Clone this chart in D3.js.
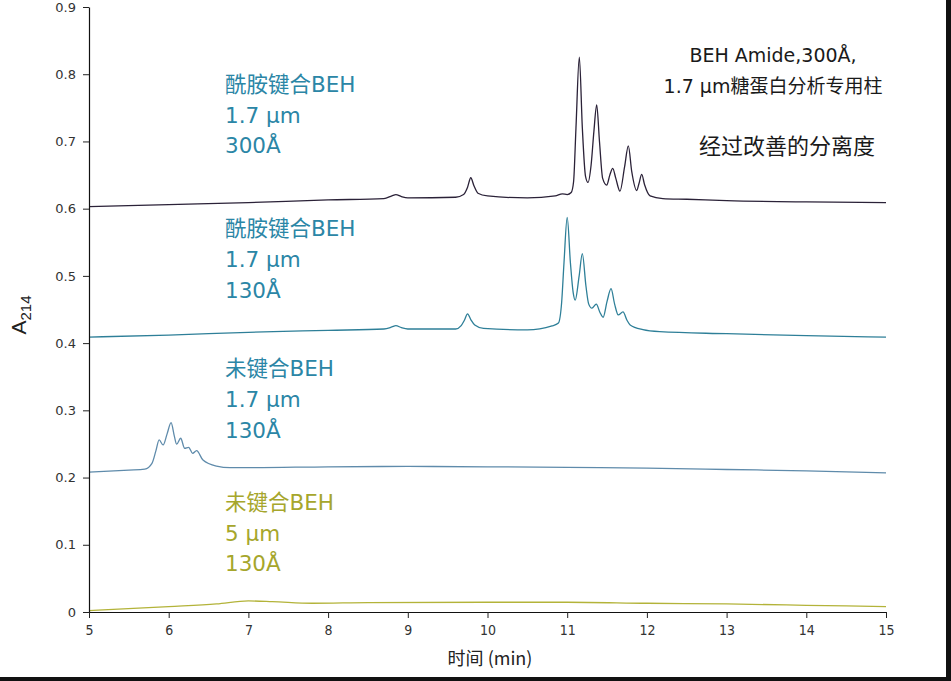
<!DOCTYPE html>
<html><head><meta charset="utf-8">
<script src="https://cdn.jsdelivr.net/npm/d3@7/dist/d3.min.js"></script>
<style>
html,body{margin:0;padding:0;background:#fff;}
svg{display:block;}
</style></head>
<body>
<svg id="chart" width="951" height="681"></svg>
<script>
// ---- data (time in min, absorbance) ----
const xTicks = [5,6,7,8,9,10,11,12,13,14,15];
const yTicks = [0,0.1,0.2,0.3,0.4,0.5,0.6,0.7,0.8,0.9];

const amide300 = [
 [5.0,0.603],[6.0,0.606],[7.0,0.609],[8.0,0.613],[8.7,0.615],[8.8,0.619],[8.85,0.621],[8.92,0.618],[9.0,0.616],
 [9.6,0.617],[9.7,0.621],[9.75,0.632],[9.79,0.646],[9.83,0.634],[9.88,0.623],[10.0,0.619],[10.5,0.616],
 [10.85,0.619],[10.94,0.622],[11.0,0.621],[11.05,0.624],[11.08,0.64],[11.11,0.72],[11.152,0.8255],[11.19,0.72],
 [11.23,0.648],[11.261,0.639],[11.30,0.665],[11.335,0.715],[11.370,0.7545],[11.405,0.70],[11.445,0.645],
 [11.496,0.635],[11.535,0.650],[11.571,0.660],[11.61,0.645],[11.662,0.626],[11.72,0.662],[11.767,0.6935],
 [11.81,0.655],[11.872,0.627],[11.90,0.637],[11.935,0.651],[11.97,0.636],[12.04,0.619],[12.2,0.615],
 [12.5,0.614],[13.0,0.612],[14.0,0.610],[15.0,0.609]
];
const amide130 = [
 [5.0,0.409],[6.0,0.412],[7.0,0.416],[8.0,0.419],[8.7,0.421],[8.8,0.424],[8.85,0.426],[8.92,0.423],[9.0,0.421],
 [9.6,0.421],[9.67,0.426],[9.71,0.434],[9.75,0.4435],[9.79,0.435],[9.84,0.427],[9.95,0.422],[10.5,0.4196],
 [10.81,0.4256],[10.89,0.430],[10.93,0.46],[10.96,0.52],[11.0,0.587],[11.04,0.52],[11.075,0.475],[11.10,0.464],
 [11.15,0.50],[11.19,0.533],[11.235,0.485],[11.27,0.458],[11.31,0.452],[11.365,0.458],[11.41,0.446],
 [11.45,0.4385],[11.50,0.462],[11.55,0.481],[11.595,0.458],[11.64,0.442],[11.70,0.4464],[11.75,0.434],
 [11.79,0.427],[11.95,0.420],[12.16,0.417],[13.0,0.414],[14.0,0.411],[15.0,0.409]
];
const bare17 = [
 [5.0,0.208],[5.5,0.211],[5.70,0.2124],[5.79,0.221],[5.84,0.240],[5.88,0.256],[5.93,0.2485],[5.98,0.265],
 [6.03,0.2817],[6.07,0.262],[6.10,0.2496],[6.15,0.2585],[6.20,0.2436],[6.25,0.245],[6.30,0.236],[6.35,0.240],
 [6.43,0.226],[6.60,0.217],[6.77,0.2147],[7.0,0.2147],[8.0,0.216],[9.0,0.2165],[10.0,0.216],[11.0,0.215],
 [12.0,0.214],[13.0,0.212],[14.0,0.210],[15.0,0.207]
];
const bare5 = [
 [5.0,0.002],[6.0,0.008],[6.6,0.012],[7.0,0.0165],[7.3,0.0155],[7.8,0.013],[8.5,0.014],[10.0,0.0145],
 [11.0,0.0145],[12.0,0.013],[13.0,0.012],[14.0,0.010],[15.0,0.008]
];

const seriesLabels = [
 {lines:["酰胺键合BEH","1.7 μm","300Å"], color:"#2b86a6", top:0.785},
 {lines:["酰胺键合BEH","1.7 μm","130Å"], color:"#2b86a6", top:0.570},
 {lines:["未键合BEH","1.7 μm","130Å"], color:"#2b86a6", top:0.362},
 {lines:["未键合BEH","5 μm","130Å"], color:"#a6a62c", top:0.163}
];
const noteLines = ["BEH Amide,300Å,", "1.7 μm糖蛋白分析专用柱", "", "经过改善的分离度"];

// ---- chart ----
const svg = d3.select("#chart");
const x = d3.scaleLinear().domain([5,15]).range([89,886]);
const y = d3.scaleLinear().domain([0,0.9]).range([612,7]);
const font = "'DejaVu Sans','Noto Sans CJK SC',sans-serif";

const traces = [
 {data:amide300, color:"#2b2238"},
 {data:amide130, color:"#2e7f98"},
 {data:bare17, color:"#5f8bab"},
 {data:bare5, color:"#b3b339"}
];
const line = d3.line().x(d=>x(d[0])).y(d=>y(d[1])).curve(d3.curveMonotoneX);
traces.forEach(t=>{
  svg.append("path").attr("d", line(t.data)).attr("fill","none")
    .attr("stroke", t.color).attr("stroke-width",1.3);
});

// axes
const yAxis = svg.append("g").attr("transform","translate(89,0)")
  .call(d3.axisLeft(y).tickValues(yTicks).tickFormat(d=>d===0?"0":d3.format(".1f")(d)).tickSize(6).tickSizeOuter(0));
const xAxis = svg.append("g").attr("transform","translate(0,612)")
  .call(d3.axisBottom(x).tickValues(xTicks).tickFormat(d3.format("d")).tickSize(6).tickSizeOuter(0));
[yAxis,xAxis].forEach(a=>{
  a.select(".domain").attr("stroke","#111").attr("stroke-width",1.2);
  a.selectAll(".tick line").attr("stroke","#222");
  a.selectAll("text").attr("font-family",font).attr("font-size",13).attr("fill","#333");
});
yAxis.selectAll("text").attr("x",-13);
xAxis.selectAll("text").attr("y",13).attr("font-family","'Liberation Sans Narrow','DejaVu Sans Condensed',sans-serif").attr("font-size",14);

// axis titles
svg.append("text").attr("transform","translate(26,315) rotate(-90)")
  .attr("text-anchor","middle").attr("font-family","'Liberation Sans',sans-serif").attr("font-size",21).attr("fill","#222")
  .text("A").append("tspan").attr("font-size",15).attr("dy",5).text("214");
svg.append("text").attr("x",490).attr("y",665).attr("text-anchor","middle")
  .attr("font-family","'Noto Sans CJK SC',sans-serif").attr("font-size",18).attr("fill","#222").text("时间 (min)");

// series labels
seriesLabels.forEach(s=>{
  s.lines.forEach((t,i)=>{
    svg.append("text").attr("x",225).attr("y", y(s.top) + 7.5 + i*30.7)
      .attr("font-family",font).attr("font-size",21.5).attr("fill",s.color).text(t);
  });
});
// note
noteLines.forEach((t,i)=>{
  svg.append("text").attr("x", i<2?773:787).attr("y", 62 + i*30.5).attr("text-anchor","middle")
    .attr("font-family",font).attr("font-size", i===3?22:19).attr("fill","#1a1a1a").text(t);
});

// frame edges
svg.append("rect").attr("x",0).attr("y",677).attr("width",951).attr("height",4).attr("fill","#111");
svg.append("rect").attr("x",946).attr("y",0).attr("width",5).attr("height",681).attr("fill","#111");
</script>
</body></html>
